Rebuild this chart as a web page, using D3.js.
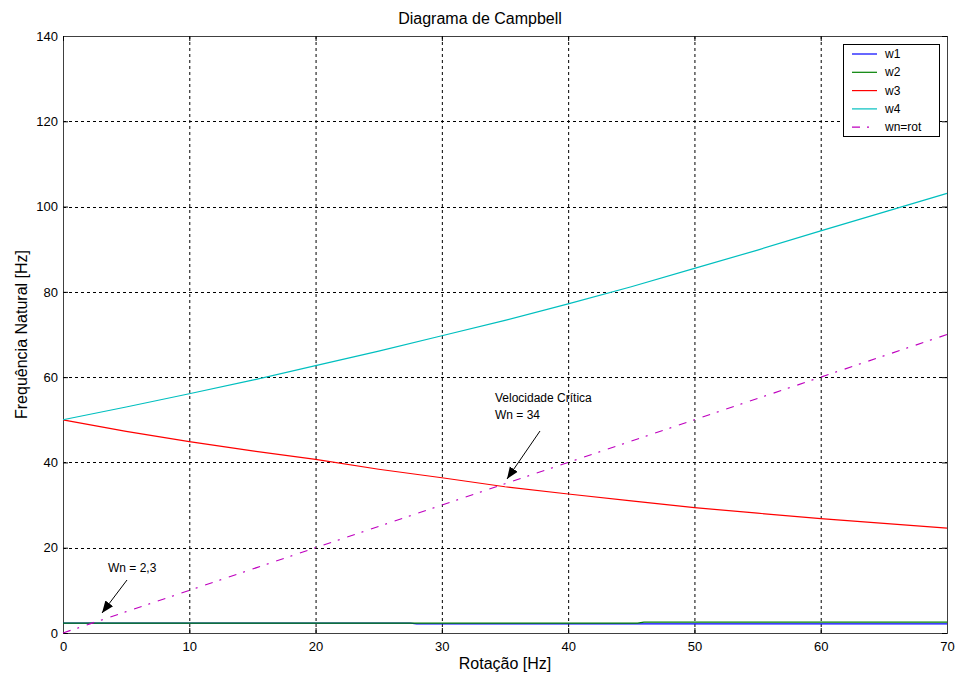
<!DOCTYPE html>
<html>
<head>
<meta charset="utf-8">
<style>
  body { margin: 0; background: #fff; }
  svg text { font-family: "Liberation Sans", Arial, sans-serif; fill: #000; }
  .axis path { stroke: #404040; }
  .axis line { stroke: #000; }
  .axis text { font-size: 13px; }
</style>
</head>
<body>
<div id="chart"></div>
<script src="https://d3js.org/d3.v7.min.js"></script>
<script>
// rotation axis (Hz)
const rot = [0, 5, 10, 15, 20, 25, 30, 35, 40, 45, 50, 55, 60, 65, 70];
const w3 = [50, 47.3, 44.9, 42.7, 40.7, 38.4, 36.4, 34.3, 32.6, 31.0, 29.4, 28.1, 26.8, 25.7, 24.6];
const w4 = [50, 53.0, 56.1, 59.3, 62.7, 66.1, 69.7, 73.3, 77.2, 81.2, 85.5, 89.8, 94.3, 98.7, 103.1];
// first two modes, sampled where they change
const rotLow = [0, 27.5, 28, 45.5, 46, 70];
const w1 = [2.3, 2.3, 2.15, 2.15, 2.15, 2.15];
const w2 = [2.3, 2.3, 2.3, 2.3, 2.55, 2.55];
const wnRot = rot.slice();

const seriesNames = ["w1", "w2", "w3", "w4", "wn=rot"];
const seriesColors = ["#0000ff", "#008000", "#ff0000", "#00bfbf", "#bf00bf"];
const xTicks = [0, 10, 20, 30, 40, 50, 60, 70];
const yTicks = [0, 20, 40, 60, 80, 100, 120, 140];

const width = 959, height = 684;
const m = { left: 63, top: 36, right: 12, bottom: 51 };
const iw = width - m.left - m.right, ih = height - m.top - m.bottom;

const svg = d3.select("#chart").append("svg")
  .attr("width", width).attr("height", height);

const x = d3.scaleLinear().domain([0, 70]).range([0, iw]);
const y = d3.scaleLinear().domain([0, 140]).range([ih, 0]);

const g = svg.append("g").attr("transform", `translate(${m.left},${m.top})`);

// grid
g.append("g").selectAll("line").data(xTicks.slice(1, -1)).enter().append("line")
  .attr("x1", d => x(d) + 0.5).attr("x2", d => x(d) + 0.5)
  .attr("y1", 0).attr("y2", ih)
  .attr("stroke", "#000").attr("stroke-dasharray", "3,3");
g.append("g").selectAll("line").data(yTicks.slice(1, -1)).enter().append("line")
  .attr("y1", d => Math.round(y(d)) + 0.5).attr("y2", d => Math.round(y(d)) + 0.5)
  .attr("x1", 0).attr("x2", iw)
  .attr("stroke", "#000").attr("stroke-dasharray", "3,3");

// axes (ticks inward, box)
g.append("g").attr("class", "axis").attr("transform", `translate(0,${ih})`)
  .call(d3.axisBottom(x).tickValues(xTicks).tickSize(-5).tickPadding(9));
g.append("g").attr("class", "axis")
  .call(d3.axisLeft(y).tickValues(yTicks).tickSize(-5).tickPadding(5));
g.append("g").attr("class", "axis")
  .call(d3.axisTop(x).tickValues(xTicks).tickSize(-5).tickFormat(""));
g.append("g").attr("class", "axis").attr("transform", `translate(${iw},0)`)
  .call(d3.axisRight(y).tickValues(yTicks).tickSize(-5).tickFormat(""));

const line = d3.line().x(d => x(d[0])).y(d => y(d[1]));

const series = [
  { xs: rotLow, ys: w1, dash: null },
  { xs: rotLow, ys: w2, dash: null },
  { xs: rot, ys: w3, dash: null },
  { xs: rot, ys: w4, dash: null },
  { xs: rot, ys: wnRot, dash: "8,7,2,8" }
];

series.forEach((s, i) => {
  g.append("path")
    .datum(s.xs.map((v, k) => [v, s.ys[k]]))
    .attr("d", line)
    .attr("fill", "none")
    .attr("stroke", seriesColors[i])
    .attr("stroke-width", 1.2)
    .attr("stroke-dasharray", s.dash);
});

// annotations
svg.append("defs").append("marker")
  .attr("id", "arrow").attr("viewBox", "0 0 10 10")
  .attr("refX", 10).attr("refY", 5)
  .attr("markerWidth", 12).attr("markerHeight", 12)
  .attr("markerUnits", "userSpaceOnUse")
  .attr("orient", "auto")
  .append("path").attr("d", "M0,1 L10,5 L0,9 Z").attr("fill", "#000");

svg.append("line")
  .attr("x1", 540).attr("y1", 431).attr("x2", 507).attr("y2", 479)
  .attr("stroke", "#000").attr("marker-end", "url(#arrow)");
svg.append("text").attr("x", 495).attr("y", 402).attr("font-size", 12).text("Velocidade Crítica");
svg.append("text").attr("x", 495).attr("y", 419).attr("font-size", 12).text("Wn = 34");

svg.append("line")
  .attr("x1", 127).attr("y1", 580).attr("x2", 102).attr("y2", 613)
  .attr("stroke", "#000").attr("marker-end", "url(#arrow)");
svg.append("text").attr("x", 108).attr("y", 572).attr("font-size", 12).text("Wn = 2,3");

// titles
svg.append("text").attr("x", 480).attr("y", 24)
  .attr("text-anchor", "middle").attr("font-size", 16).text("Diagrama de Campbell");
svg.append("text").attr("x", m.left + iw / 2).attr("y", 669)
  .attr("text-anchor", "middle").attr("font-size", 16).text("Rotação [Hz]");
svg.append("text").attr("transform", `translate(27,${m.top + ih / 2}) rotate(-90)`)
  .attr("text-anchor", "middle").attr("font-size", 16).text("Frequência Natural [Hz]");

// legend
const lg = svg.append("g").attr("transform", "translate(843,44)");
lg.append("rect").attr("x", 0.5).attr("y", 0.5).attr("width", 96).attr("height", 92)
  .attr("fill", "#fff").attr("stroke", "#000");
seriesNames.forEach((name, i) => {
  const yy = 10 + i * 18.3;
  lg.append("line").attr("x1", 9).attr("x2", 34).attr("y1", yy).attr("y2", yy)
    .attr("stroke", seriesColors[i]).attr("stroke-width", 1.2)
    .attr("stroke-dasharray", i === 4 ? "8,7,2,8" : null);
  lg.append("text").attr("x", 42).attr("y", yy + 4).attr("font-size", 12).text(name);
});
</script>
</body>
</html>
